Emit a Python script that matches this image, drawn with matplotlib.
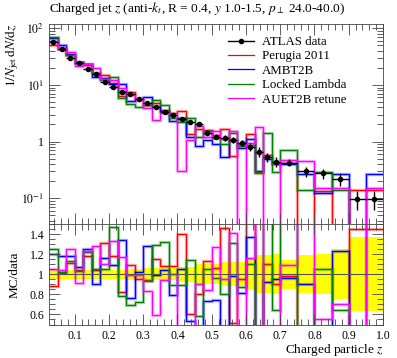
import numpy as np
import matplotlib.pyplot as plt
from matplotlib.ticker import MultipleLocator, LogLocator, NullFormatter, FixedLocator, FixedFormatter
from matplotlib.lines import Line2D

plt.rcParams['font.family'] = ['Liberation Serif', 'DejaVu Serif']
plt.rcParams['mathtext.fontset'] = 'stix'

# bin edges of the z distribution
edges = [0.025, 0.05, 0.075, 0.1, 0.125, 0.15, 0.175, 0.2, 0.225, 0.25, 0.275,
         0.3, 0.325, 0.35, 0.375, 0.4, 0.425, 0.45, 0.475, 0.5, 0.525, 0.55,
         0.575, 0.6, 0.625, 0.65, 0.675, 0.7, 0.75, 0.8, 0.85, 0.9, 0.95, 1.0]

# ATLAS data, 1/N dN/dz and relative uncertainty
data = [56.6, 42.6, 30.3, 24.1, 18.9, 15.4, 11.4, 9.33, 7.62, 6.8, 5.6,
        4.75, 4.14, 3.38, 2.96, 2.51, 2.25, 2.05, 1.44, 1.22, 1.15, 1.07,
        0.96, 0.80, 0.667, 0.531, 0.444, 0.426, 0.296, 0.277, 0.220, 0.0964, 0.0964]
rel_err = [0.05, 0.045, 0.045, 0.045, 0.045, 0.045, 0.045, 0.045, 0.045, 0.055, 0.055,
           0.06, 0.06, 0.06, 0.06, 0.075, 0.075, 0.1, 0.1, 0.1, 0.12, 0.12,
           0.12, 0.16, 0.19, 0.19, 0.2, 0.145, 0.19, 0.2, 0.25, 0.37, 0.37]

# MC / data ratios
perugia = [0.88, 1.01, 1.11, 1.04, 1.18, 1.04, 1.31, 1.18, 0.82, 1.09, 0.95,
           0.94, 1.15, 1.08, 1.08, 1.40, 0.60, 0.80, 1.13, 1.06, 1.46, 0.51,
           0.95, 1.70, 0.42, 1.10, 0.90, 0.98, 0.0, 0.49, 0.0, 1.45, 1.45]
ambt2b = [1.20, 1.18, 1.18, 1.07, 1.25, 0.90, 1.16, 1.09, 1.34, 0.76, 1.02,
          1.28, 0.99, 1.04, 0.79, 1.05, 0.53, 0.40, 0.73, 0.74, 0.47, 0.98,
          0.81, 1.37, 0.45, 0.92, 0.95, 0.96, 0.905, 0.45, 1.23, 0.0, 2.8]
locked = [1.25, 1.02, 1.13, 1.03, 1.22, 1.05, 1.05, 1.47, 0.78, 0.69, 0.72,
          0.93, 1.29, 1.32, 0.89, 0.89, 1.14, 0.58, 1.05, 0.96, 0.80, 1.31,
          0.87, 1.10, 0.43, 2.7, 0.64, 1.68, 0.47, 1.05, 0.64, 0.0, 0.0]
auet2b = [1.05, 1.04, 1.25, 0.91, 1.23, 1.28, 1.10, 1.33, 1.17, 0.99, 0.99,
          0.83, 0.59, 0.94, 1.00, 0.12, 0.47, 0.90, 0.84, 1.27, 0.95, 1.41,
          0.0, 1.16, 2.7, 0.0, 0.0, 1.09, 1.54, 0.55, 0.70, 0.0, 1.56]

labels = ['Perugia 2011', 'AMBT2B', 'Locked Lambda', 'AUET2B retune']
colors = ['red', 'blue', 'green', 'magenta']
ratios = [perugia, ambt2b, locked, auet2b]

edges = np.array(edges)
data = np.array(data)
rel_err = np.array(rel_err)
centers = 0.5 * (edges[1:] + edges[:-1])
halfw = 0.5 * (edges[1:] - edges[:-1])

fig = plt.figure(figsize=(3.97, 3.58), dpi=100)
ax = fig.add_axes([49 / 397, 1 - 224 / 358, 334 / 397, 200 / 358])
rax = fig.add_axes([49 / 397, 1 - 324.5 / 358, 334 / 397, 100.5 / 358], sharex=ax)

# main panel
for r, c in zip(ratios, colors):
    mc = data * np.array(r)
    mc[mc <= 0] = 1e-6
    ax.stairs(mc, edges, baseline=None, color=c, lw=2.4, alpha=0.3)
    ax.stairs(mc, edges, baseline=None, color=c, lw=0.9)
ax.errorbar(centers, data, xerr=halfw, yerr=data * rel_err, fmt='o', ms=3,
            color='black', lw=1, capsize=0, zorder=5)

ax.set_yscale('log')
ax.set_xlim(0.025, 1.0)
ax.set_ylim(0.035, 119)
ax.yaxis.set_major_locator(FixedLocator([0.1, 1, 10, 100]))
ax.yaxis.set_major_formatter(FixedFormatter([r'$10^{-1}$', '1', r'$10^{1}$', r'$10^{2}$']))
ax.yaxis.set_minor_locator(LogLocator(base=10, subs=np.arange(2, 10)))
ax.yaxis.set_minor_formatter(NullFormatter())
ax.xaxis.set_major_locator(MultipleLocator(0.1))
ax.xaxis.set_minor_locator(MultipleLocator(0.02))
plt.setp(ax.get_xticklabels(), visible=False)

ax.set_ylabel(r'$1/N_{\mathrm{jet}}\,\mathrm{d}N/\mathrm{d}z$', fontsize=9.5, loc='top')
ax.yaxis.set_label_coords(-0.085, 1.0)
ax.text(0.0, 1.035, r'Charged jet $z$ (anti-$k_t$, R = 0.4, $y$ 1.0-1.5, $p_\perp$ 24.0-40.0)',
        transform=ax.transAxes, ha='left', va='bottom', fontsize=9.6)

handles = [Line2D([], [], color='black', marker='o', ms=3, lw=1)]
handles += [Line2D([], [], color=c, lw=0.9) for c in colors]
ax.legend(handles, ['ATLAS data'] + labels, loc='upper left',
          bbox_to_anchor=(0.536, 0.94), frameon=False, fontsize=9.3,
          handlelength=2.0, handletextpad=0.6, labelspacing=0.18,
          borderpad=0, borderaxespad=0)

# ratio panel
rax.stairs(1 + rel_err, edges, baseline=1 - rel_err, fill=True, color='yellow', lw=0)
rax.axhline(1, color='#555555', lw=0.8)
for r, c in zip(ratios, colors):
    rax.stairs(np.array(r), edges, baseline=None, color=c, lw=2.4, alpha=0.3)
    rax.stairs(np.array(r), edges, baseline=None, color=c, lw=0.9)
rax.set_ylim(0.5, 1.5)
rax.yaxis.set_major_locator(FixedLocator([0.6, 0.8, 1.0, 1.2, 1.4]))
rax.yaxis.set_major_formatter(FixedFormatter(['0.6', '0.8', '1', '1.2', '1.4']))
rax.yaxis.set_minor_locator(MultipleLocator(0.05))
rax.xaxis.set_major_locator(FixedLocator([0.1, 0.2, 0.3, 0.4, 0.5, 0.6, 0.7, 0.8, 0.9, 1.0]))
rax.xaxis.set_major_formatter(FixedFormatter(['0.1', '0.2', '0.3', '0.4', '0.5',
                                              '0.6', '0.7', '0.8', '0.9', '1.0']))
rax.set_ylabel('MC/data', fontsize=9.5)
rax.yaxis.set_label_coords(-0.085, 0.5)
rax.set_xlabel('Charged particle $z$', fontsize=9.5, loc='right', labelpad=0)

for a in (ax, rax):
    a.tick_params(which='both', direction='in', top=True, right=True, labelsize=8.5,
                  color='#444444', width=0.6)
    a.tick_params(which='major', length=8)
    a.tick_params(which='minor', length=4)
    for s in a.spines.values():
        s.set_linewidth(0.6)
        s.set_color('#444444')
rax.tick_params(axis='x', which='major', pad=4)

fig.savefig('out.png', dpi=100)
